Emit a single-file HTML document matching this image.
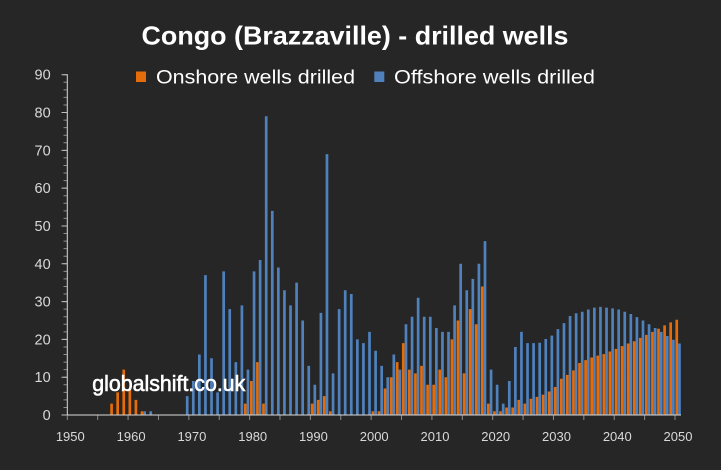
<!DOCTYPE html>
<html><head><meta charset="utf-8">
<style>
html,body{margin:0;padding:0;background:#262626;}
svg{display:block;}
text{font-family:"Liberation Sans",sans-serif;}
</style></head>
<body>
<svg width="721" height="470" viewBox="0 0 721 470" xmlns="http://www.w3.org/2000/svg">
<rect width="721" height="470" fill="#262626"/>
<text x="355" y="44.3" text-anchor="middle" font-size="26" font-weight="bold" fill="#ffffff" textLength="427" lengthAdjust="spacingAndGlyphs">Congo (Brazzaville) - drilled wells</text>
<rect x="136" y="71.5" width="10" height="10.5" fill="#E46C0A"/>
<text x="156" y="83.5" font-size="19.5" fill="#ffffff" textLength="199" lengthAdjust="spacingAndGlyphs">Onshore wells drilled</text>
<rect x="374.3" y="71.5" width="10" height="10.5" fill="#4F81BD"/>
<text x="394" y="83.5" font-size="19.5" fill="#ffffff" textLength="201" lengthAdjust="spacingAndGlyphs">Offshore wells drilled</text>
<line x1="65.4" y1="74.21" x2="65.4" y2="415.5" stroke="#8c8c8c" stroke-width="3.8" stroke-dasharray="1 6.562"/>
<path d="M61.5 415H67.3M61.5 377.19H67.3M61.5 339.38H67.3M61.5 301.57H67.3M61.5 263.76H67.3M61.5 225.95H67.3M61.5 188.14H67.3M61.5 150.33H67.3M61.5 112.52H67.3M61.5 74.71H67.3" stroke="#bfbfbf" stroke-width="1"/>
<line x1="67.3" y1="74.2" x2="67.3" y2="415" stroke="#d9d9d9" stroke-width="1"/>
<g font-size="14.5" fill="#d9d9d9" text-anchor="end">
<text x="50.7" y="420">0</text><text x="50.7" y="382.2">10</text><text x="50.7" y="344.4">20</text><text x="50.7" y="306.6">30</text><text x="50.7" y="268.8">40</text><text x="50.7" y="231">50</text><text x="50.7" y="193.1">60</text><text x="50.7" y="155.3">70</text><text x="50.7" y="117.5">80</text><text x="50.7" y="79.7">90</text>
</g>
<g transform="translate(67.3,415) scale(6.077,-3.781)" fill="none" stroke-width=".444">
<path stroke="#E46C0A" d="M7.288 0V3M8.288 0V6M9.288 0V12M10.288 0V7M11.288 0V4M12.288 0V1M29.288 0V3M30.288 0V9M31.288 0V14M32.288 0V3M40.288 0V3M41.288 0V4M42.288 0V5M43.288 0V1M50.288 0V1M51.288 0V1M52.288 0V7M53.288 0V10M54.288 0V14M55.288 0V19M56.288 0V12M57.288 0V11M58.288 0V13M59.288 0V8M60.288 0V8M61.288 0V12M62.288 0V10M63.288 0V20M64.288 0V25M65.288 0V11M66.288 0V28M67.288 0V24M68.288 0V34M69.288 0V3M70.288 0V1M71.288 0V1M72.288 0V2M73.288 0V2M74.288 0V4M75.288 0V3M76.288 0V4.3M77.288 0V4.8M78.288 0V5.4M79.288 0V6.2M80.288 0V7.4M81.288 0V9.6M82.288 0V10.6M83.288 0V11.8M84.288 0V13.75M85.288 0V14.5M86.288 0V15.2M87.288 0V15.7M88.288 0V16.1M89.288 0V16.8M90.288 0V17.5M91.288 0V18.2M92.288 0V18.9M93.288 0V19.5M94.288 0V20.4M95.288 0V21.2M96.288 0V22M97.288 0V22.8M98.288 0V23.7M99.288 0V24.5M100.288 0V25.2"/>
<path stroke="#4F81BD" d="M12.732 0V1M13.732 0V1M19.732 0V5M20.732 0V9M21.732 0V16M22.732 0V37M23.732 0V15M24.732 0V6M25.732 0V38M26.732 0V28M27.732 0V14M28.732 0V29M29.732 0V12M30.732 0V38M31.732 0V41M32.732 0V79M33.732 0V54M34.732 0V39M35.732 0V33M36.732 0V29M37.732 0V35M38.732 0V25M39.732 0V13M40.732 0V8M41.732 0V27M42.732 0V69M43.732 0V11M44.732 0V28M45.732 0V33M46.732 0V32M47.732 0V20M48.732 0V19M49.732 0V22M50.732 0V17M51.732 0V13M52.732 0V10M53.732 0V16M54.732 0V12M55.732 0V24M56.732 0V26M57.732 0V31M58.732 0V26M59.732 0V26M60.732 0V23M61.732 0V22M62.732 0V22M63.732 0V29M64.732 0V40M65.732 0V33M66.732 0V36M67.732 0V40M68.732 0V46M69.732 0V12M70.732 0V8M71.732 0V3M72.732 0V9M73.732 0V18M74.732 0V22M75.732 0V19M76.732 0V19M77.732 0V19.1M78.732 0V20.1M79.732 0V21M80.732 0V22.7M81.732 0V24.3M82.732 0V26.2M83.732 0V26.9M84.732 0V27.3M85.732 0V27.9M86.732 0V28.4M87.732 0V28.6M88.732 0V28.4M89.732 0V28.2M90.732 0V27.9M91.732 0V27.3M92.732 0V26.7M93.732 0V25.9M94.732 0V25M95.732 0V24M96.732 0V23M97.732 0V22M98.732 0V20.9M99.732 0V19.9M100.732 0V18.9"/>
</g>
<line x1="66.8" y1="417.5" x2="676" y2="417.5" stroke="#8c8c8c" stroke-width="5" stroke-dasharray="1 29.385"/>
<line x1="67.3" y1="415" x2="681" y2="415" stroke="#d9d9d9" stroke-width="1"/>
<g font-size="13" fill="#d9d9d9" text-anchor="middle">
<text x="70.3" y="441">1950</text><text x="131.1" y="441">1960</text><text x="191.9" y="441">1970</text><text x="252.7" y="441">1980</text><text x="313.4" y="441">1990</text><text x="374.2" y="441">2000</text><text x="435" y="441">2010</text><text x="495.7" y="441">2020</text><text x="556.5" y="441">2030</text><text x="617.3" y="441">2040</text><text x="678" y="441">2050</text>
</g>
<text x="92.3" y="391" font-size="22" fill="#ffffff" stroke="#ffffff" stroke-width="0.6" textLength="153" lengthAdjust="spacingAndGlyphs">globalshift.co.uk</text>
</svg>
</body></html>
